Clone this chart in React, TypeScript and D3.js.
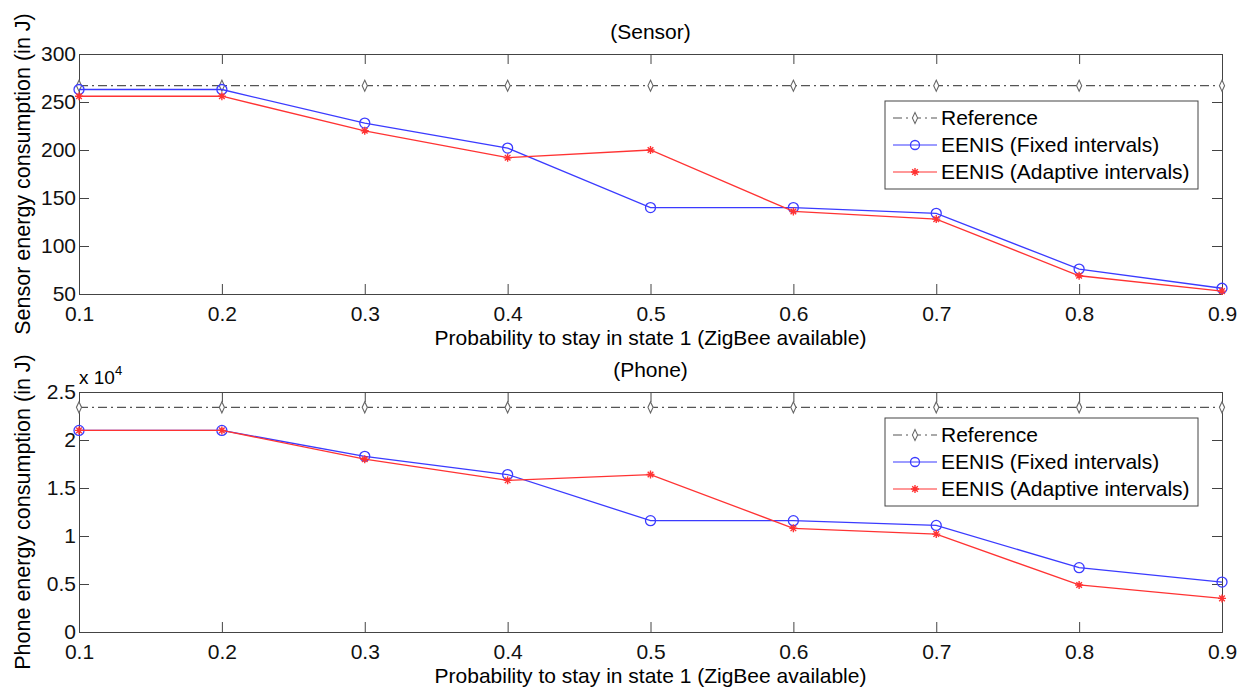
import React, { useEffect, useRef } from "react";
import * as d3 from "d3";

const probs = [0.1, 0.2, 0.3, 0.4, 0.5, 0.6, 0.7, 0.8, 0.9];
const xTicks = [0.1, 0.2, 0.3, 0.4, 0.5, 0.6, 0.7, 0.8, 0.9];

const sensorRef = [267, 267, 267, 267, 267, 267, 267, 267, 267];
const sensorFixed = [263, 263, 228, 202, 140, 140, 134, 76, 56];
const sensorAdaptive = [256, 256, 220, 192, 200, 136, 128, 69, 53];
const sensorTicks = [50, 100, 150, 200, 250, 300];

const phoneRef = [2.34, 2.34, 2.34, 2.34, 2.34, 2.34, 2.34, 2.34, 2.34];
const phoneFixed = [2.1, 2.1, 1.83, 1.64, 1.16, 1.16, 1.11, 0.67, 0.52];
const phoneAdaptive = [2.1, 2.1, 1.8, 1.58, 1.64, 1.08, 1.02, 0.49, 0.35];
const phoneTicks = [0, 0.5, 1, 1.5, 2, 2.5];

const legendNames = ["Reference", "EENIS (Fixed intervals)", "EENIS (Adaptive intervals)"];

const FONT = "Liberation Sans, Arial, sans-serif";
const FS = "21px";
const BLUE = "#3b3bff";
const RED = "#ff3333";
const REFC = "#555";

// MATLAB-like asterisk marker
const asterisk = (r: number) => {
  const p = d3.path();
  p.moveTo(-r, 0); p.lineTo(r, 0);
  p.moveTo(0, -r); p.lineTo(0, r);
  const k = r * 0.7;
  p.moveTo(-k, -k); p.lineTo(k, k);
  p.moveTo(-k, k); p.lineTo(k, -k);
  return p.toString();
};

const App = () => {
  const ref = useRef<SVGSVGElement>(null);

  useEffect(() => {
    const svg = d3.select(ref.current);
    svg.selectAll("*").remove();

    const left = 79;
    const right = 1222;

    const panel = (
      top: number,
      bottom: number,
      domain: [number, number],
      yTicks: number[],
      refv: number[],
      fixed: number[],
      adaptive: number[],
      title: string,
      ylabel: string,
      legendTop: number,
      exponent: boolean
    ) => {
      const x = d3.scaleLinear().domain([0.1, 0.9]).range([left, right]);
      const y = d3.scaleLinear().domain(domain).range([bottom, top]);
      const g = svg.append("g");

      // axes box with inward ticks
      const ax = (sel: any) =>
        sel.selectAll("path.domain").attr("stroke", "#444");
      g.append("g")
        .attr("transform", `translate(0,${bottom})`)
        .call(d3.axisBottom(x).tickValues(xTicks).tickSize(-10).tickPadding(12).tickFormat(d3.format(".1f")))
        .call(ax);
      g.append("g")
        .attr("transform", `translate(0,${top})`)
        .call(d3.axisTop(x).tickValues(xTicks).tickSize(-10).tickFormat(() => ""))
        .call(ax);
      g.append("g")
        .attr("transform", `translate(${left},0)`)
        .call(d3.axisLeft(y).tickValues(yTicks).tickSize(-10).tickPadding(3).tickFormat((d: any) => String(d)))
        .call(ax);
      g.append("g")
        .attr("transform", `translate(${right},0)`)
        .call(d3.axisRight(y).tickValues(yTicks).tickSize(-10).tickFormat(() => ""))
        .call(ax);
      g.selectAll(".tick line").attr("stroke", "#444");
      g.selectAll(".tick text")
        .attr("fill", "#111")
        .style("font-family", FONT)
        .style("font-size", FS);

      const line = d3
        .line<number>()
        .x((d, i) => x(probs[i]))
        .y((d) => y(d));

      // reference
      g.append("path")
        .datum(refv)
        .attr("d", line)
        .attr("fill", "none")
        .attr("stroke", REFC)
        .attr("stroke-width", 1.2)
        .attr("stroke-dasharray", "9,4,2,4");
      const diamond = d3.symbol().type(d3.symbolDiamond).size(32);
      g.selectAll(".dref")
        .data(refv)
        .enter()
        .append("path")
        .attr("d", diamond)
        .attr("transform", (d, i) => `translate(${x(probs[i])},${y(d)}) scale(0.85,1.05)`)
        .attr("fill", "white")
        .attr("stroke", "#666")
        .attr("stroke-width", 1.2);

      // fixed
      g.append("path")
        .datum(fixed)
        .attr("d", line)
        .attr("fill", "none")
        .attr("stroke", BLUE)
        .attr("stroke-width", 1.3);
      g.selectAll(".cf")
        .data(fixed)
        .enter()
        .append("circle")
        .attr("cx", (d, i) => x(probs[i]))
        .attr("cy", (d) => y(d))
        .attr("r", 5)
        .attr("fill", "none")
        .attr("stroke", BLUE)
        .attr("stroke-width", 1.3);

      // adaptive
      g.append("path")
        .datum(adaptive)
        .attr("d", line)
        .attr("fill", "none")
        .attr("stroke", RED)
        .attr("stroke-width", 1.3);
      g.selectAll(".sa")
        .data(adaptive)
        .enter()
        .append("path")
        .attr("d", asterisk(4))
        .attr("transform", (d, i) => `translate(${x(probs[i])},${y(d)})`)
        .attr("fill", "none")
        .attr("stroke", RED)
        .attr("stroke-width", 1.4);

      // title & labels
      g.append("text")
        .attr("x", (left + right) / 2)
        .attr("y", top - 15)
        .attr("text-anchor", "middle")
        .style("font-family", FONT)
        .style("font-size", FS)
        .text(title);
      g.append("text")
        .attr("x", (left + right) / 2)
        .attr("y", bottom + 51)
        .attr("text-anchor", "middle")
        .style("font-family", FONT)
        .style("font-size", FS)
        .text("Probability to stay in state 1 (ZigBee available)");
      g.append("text")
        .attr("transform", `translate(30,${(top + bottom) / 2}) rotate(-90)`)
        .attr("text-anchor", "middle")
        .style("font-family", FONT)
        .style("font-size", "21.5px")
        .text(ylabel);
      if (exponent) {
        const t = g.append("text")
          .attr("x", left)
          .attr("y", top - 8)
          .style("font-family", FONT)
          .style("font-size", "19px")
          .text("x 10");
        t.append("tspan").attr("dy", -9).style("font-size", "13px").text("4");
      }

      // legend
      const lx = 885;
      const lw = 313;
      const lh = 88;
      const lg = g.append("g");
      lg.append("rect")
        .attr("x", lx)
        .attr("y", legendTop)
        .attr("width", lw)
        .attr("height", lh)
        .attr("fill", "white")
        .attr("stroke", "#444")
        .attr("stroke-width", 1);
      const rowY = (i: number) => legendTop + 17 + i * 27;
      legendNames.forEach((name, i) => {
        const yy = rowY(i);
        const color = i === 0 ? REFC : i === 1 ? BLUE : RED;
        lg.append("line")
          .attr("x1", lx + 8)
          .attr("x2", lx + 52)
          .attr("y1", yy)
          .attr("y2", yy)
          .attr("stroke", color)
          .attr("stroke-width", 1.2)
          .attr("stroke-dasharray", i === 0 ? "9,4,2,4" : null);
        const mx = lx + 30;
        if (i === 0) {
          lg.append("path").attr("d", diamond)
            .attr("transform", `translate(${mx},${yy}) scale(0.85,1.05)`)
            .attr("fill", "white").attr("stroke", "#666").attr("stroke-width", 1.2);
        } else if (i === 1) {
          lg.append("circle").attr("cx", mx).attr("cy", yy).attr("r", 4.5)
            .attr("fill", "none").attr("stroke", color).attr("stroke-width", 1.3);
        } else {
          lg.append("path").attr("d", asterisk(4))
            .attr("transform", `translate(${mx},${yy})`)
            .attr("fill", "none").attr("stroke", RED).attr("stroke-width", 1.4);
        }
        lg.append("text")
          .attr("x", lx + 56)
          .attr("y", yy + 7)
          .style("font-family", FONT)
          .style("font-size", FS)
          .text(name);
      });
    };

    panel(54, 294, [50, 300], sensorTicks, sensorRef, sensorFixed, sensorAdaptive,
      "(Sensor)", "Sensor energy consumption (in J)", 101, false);
    panel(392, 632, [0, 2.5], phoneTicks, phoneRef, phoneFixed, phoneAdaptive,
      "(Phone)", "Phone energy consumption (in J)", 418, true);
  }, []);

  return (
    <svg
      ref={ref}
      width={1253}
      height={687}
      style={{ position: "absolute", left: 0, top: 0, background: "white" }}
    ></svg>
  );
};

export default App;
